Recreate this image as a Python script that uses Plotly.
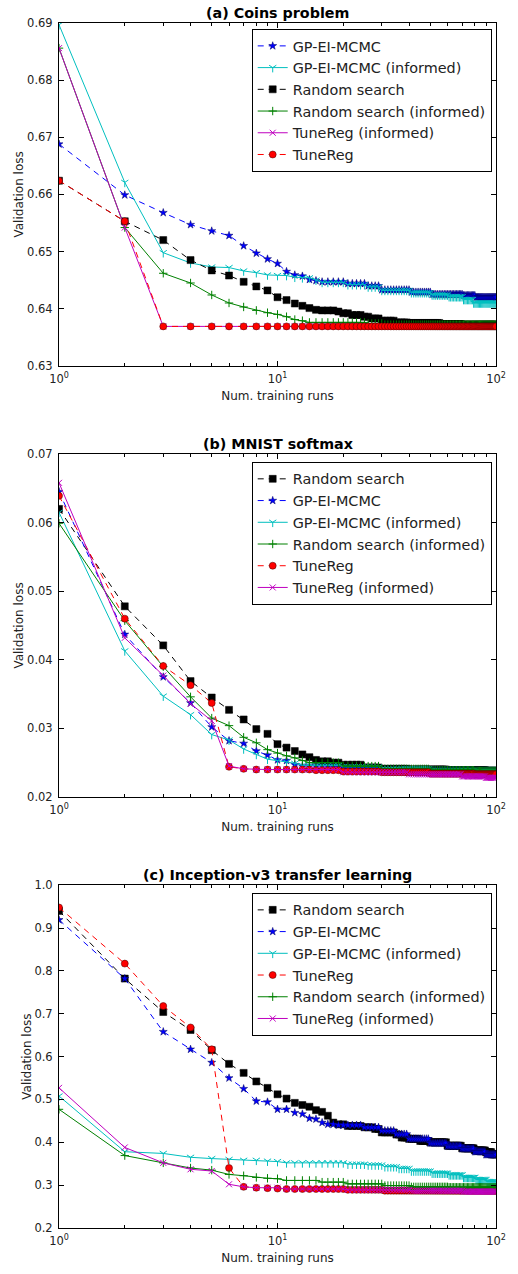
import numpy as np
import plotly.graph_objects as go

# ---------------- DATA ----------------
# x = number of training runs, 1..100 ; values stored as (values, repeat counts)
runs = list(range(1, 101))

# (a) Coins problem
coins_gp_vals = [0.6688, 0.6599, 0.6568, 0.6547, 0.6536, 0.6528, 0.6510, 0.6497, 0.6487, 0.6479,
                 0.6465, 0.6459, 0.6457, 0.6451, 0.6449, 0.6447, 0.6444, 0.6440, 0.6433, 0.6429,
                 0.6425, 0.6423, 0.6420]
coins_gp_reps = [1] * 15 + [5, 5, 4, 11, 10, 20, 10, 20]
coins_gpi_vals = [0.6897, 0.6621, 0.6498, 0.6480, 0.6473, 0.6472, 0.6466, 0.6463, 0.6459, 0.6458,
                  0.6458, 0.6455, 0.6454, 0.6454, 0.6450, 0.6446, 0.6442, 0.6438, 0.6432, 0.6428,
                  0.6424, 0.6421, 0.6416, 0.6410]
coins_gpi_reps = [1] * 15 + [5, 5, 4, 11, 10, 10, 10, 8, 22]
coins_rs_vals = [0.6624, 0.6553, 0.6520, 0.6485, 0.6467, 0.6458, 0.6447, 0.6439, 0.6432, 0.6420,
                 0.6415, 0.6409, 0.6405, 0.6401, 0.6398, 0.6397, 0.6395, 0.6392, 0.6389, 0.6386,
                 0.6383, 0.6379, 0.6376, 0.6375, 0.6373, 0.6372]
coins_rs_reps = [1] * 15 + [3, 1, 2, 3, 2, 3, 5, 5, 16, 14, 31]
coins_rsi_vals = [0.6856, 0.6542, 0.6462, 0.6445, 0.6424, 0.6410, 0.6403, 0.6397, 0.6393, 0.6390,
                  0.6386, 0.6381, 0.6379, 0.6376, 0.6374, 0.6372]
coins_rsi_reps = [1] * 13 + [12, 5, 70]
coins_tri_vals = [0.6856, 0.6542, 0.6369]
coins_tri_reps = [1, 1, 98]
coins_tr_vals = [0.6624, 0.6553, 0.6369]
coins_tr_reps = [1, 1, 98]

# (b) MNIST softmax
mnist_rs_vals = [0.0620, 0.0478, 0.0421, 0.0369, 0.0345, 0.0327, 0.0313, 0.0299, 0.0292, 0.0277,
                 0.0272, 0.0267, 0.0262, 0.0258, 0.0254, 0.0252, 0.0250, 0.0247, 0.0243, 0.0241,
                 0.0240, 0.0239, 0.0238]
mnist_rs_reps = [1] * 15 + [2, 2, 5, 5, 10, 20, 30, 11]
mnist_gp_vals = [0.0645, 0.0437, 0.0375, 0.0337, 0.0302, 0.0282, 0.0278, 0.0267, 0.0261, 0.0254,
                 0.0253, 0.0247, 0.0245, 0.0242, 0.0240, 0.0239, 0.0238]
mnist_gp_reps = [1] * 12 + [7, 10, 20, 30, 21]
mnist_gpi_vals = [0.0615, 0.0413, 0.0347, 0.0320, 0.0291, 0.0283, 0.0270, 0.0262, 0.0255, 0.0253,
                  0.0251, 0.0249, 0.0246, 0.0244, 0.0241, 0.0238, 0.0237]
mnist_gpi_reps = [1] * 12 + [7, 10, 20, 30, 21]
mnist_rsi_vals = [0.0599, 0.0457, 0.0390, 0.0346, 0.0315, 0.0304, 0.0287, 0.0279, 0.0269, 0.0264,
                  0.0260, 0.0257, 0.0253, 0.0250, 0.0245, 0.0241, 0.0239, 0.0238]
mnist_rsi_reps = [1] * 13 + [6, 10, 20, 30, 21]
mnist_tr_vals = [0.0639, 0.0460, 0.0391, 0.0363, 0.0337, 0.0244, 0.0241, 0.0240, 0.0239, 0.0237,
                 0.0236, 0.0234, 0.0233]
mnist_tr_reps = [1] * 7 + [7, 5, 10, 20, 30, 21]
mnist_tri_vals = [0.0658, 0.0432, 0.0377, 0.0336, 0.0311, 0.0245, 0.0241, 0.0240, 0.0236, 0.0233,
                  0.0230, 0.0228]
mnist_tri_reps = [1] * 7 + [12, 20, 30, 20, 11]

# (c) Inception-v3 transfer learning
inc_rs_vals = [0.940, 0.782, 0.704, 0.662, 0.615, 0.583, 0.562, 0.542, 0.527, 0.512, 0.502, 0.492,
               0.487, 0.483, 0.475, 0.471, 0.462, 0.446, 0.442, 0.438, 0.435, 0.431, 0.423, 0.418,
               0.411, 0.408, 0.403, 0.400, 0.392, 0.386, 0.381, 0.377, 0.372]
inc_rs_reps = [1] * 18 + [2, 4, 3, 2, 5, 2, 3, 5, 5, 10, 10, 10, 10, 6, 5]
inc_gp_vals = [0.919, 0.782, 0.658, 0.617, 0.586, 0.550, 0.525, 0.496, 0.494, 0.477, 0.477, 0.469,
               0.466, 0.456, 0.454, 0.446, 0.442, 0.440, 0.435, 0.427, 0.419, 0.408, 0.398, 0.391,
               0.385, 0.378, 0.371]
inc_gp_reps = [1] * 16 + [2, 6, 5, 5, 5, 10, 10, 10, 10, 10, 11]
inc_gpi_vals = [0.508, 0.378, 0.374, 0.365, 0.362, 0.360, 0.358, 0.358, 0.356, 0.355, 0.352, 0.349,
                0.347, 0.343, 0.339, 0.333, 0.328, 0.324, 0.318, 0.313, 0.308]
inc_gpi_reps = [1] * 10 + [10, 5, 5, 5, 5, 10, 10, 10, 10, 10, 10]
inc_tr_vals = [0.948, 0.817, 0.718, 0.668, 0.617, 0.340, 0.296, 0.294, 0.293, 0.292, 0.291, 0.289,
               0.287]
inc_tr_reps = [1] * 10 + [10, 10, 70]
inc_rsi_vals = [0.477, 0.369, 0.352, 0.340, 0.335, 0.325, 0.322, 0.318, 0.316, 0.315, 0.311, 0.307,
                0.303, 0.299, 0.296, 0.295]
inc_rsi_reps = [1] * 10 + [5, 5, 10, 10, 20, 40]
inc_tri_vals = [0.527, 0.388, 0.352, 0.337, 0.333, 0.302, 0.296, 0.294, 0.294, 0.294, 0.291, 0.289,
                0.287, 0.285]
inc_tri_reps = [1] * 10 + [10, 20, 30, 30]

panel_titles = ["(a) Coins problem", "(b) MNIST softmax", "(c) Inception-v3 transfer learning"]
x_tick_vals = [1, 10, 100]
x_tick_text = ["10<sup>0</sup>", "10<sup>1</sup>", "10<sup>2</sup>"]

# ---------------- STYLE ----------------
STY = {
    "GP-EI-MCMC": dict(color="#0000ff", dash="dash", symbol="star", size=6, edge="#000060", lw=0.5),
    "GP-EI-MCMC (informed)": dict(color="#00bfbf", dash="solid", symbol="y-down-open", size=6, edge="#00bfbf", lw=1),
    "Random search": dict(color="#000000", dash="dash", symbol="square", size=7, edge="#000000", lw=0.5),
    "Random search (informed)": dict(color="#008000", dash="solid", symbol="cross-thin-open", size=6, edge="#008000", lw=1),
    "TuneReg (informed)": dict(color="#bf00bf", dash="solid", symbol="x-thin-open", size=6, edge="#ee44ee", lw=1),
    "TuneReg": dict(color="#ff0000", dash="dash", symbol="circle", size=7, edge="#400000", lw=0.5),
}

panels = [
    [("GP-EI-MCMC", coins_gp_vals, coins_gp_reps),
     ("GP-EI-MCMC (informed)", coins_gpi_vals, coins_gpi_reps),
     ("Random search", coins_rs_vals, coins_rs_reps),
     ("Random search (informed)", coins_rsi_vals, coins_rsi_reps),
     ("TuneReg (informed)", coins_tri_vals, coins_tri_reps),
     ("TuneReg", coins_tr_vals, coins_tr_reps)],
    [("Random search", mnist_rs_vals, mnist_rs_reps),
     ("GP-EI-MCMC", mnist_gp_vals, mnist_gp_reps),
     ("GP-EI-MCMC (informed)", mnist_gpi_vals, mnist_gpi_reps),
     ("Random search (informed)", mnist_rsi_vals, mnist_rsi_reps),
     ("TuneReg", mnist_tr_vals, mnist_tr_reps),
     ("TuneReg (informed)", mnist_tri_vals, mnist_tri_reps)],
    [("Random search", inc_rs_vals, inc_rs_reps),
     ("GP-EI-MCMC", inc_gp_vals, inc_gp_reps),
     ("GP-EI-MCMC (informed)", inc_gpi_vals, inc_gpi_reps),
     ("TuneReg", inc_tr_vals, inc_tr_reps),
     ("Random search (informed)", inc_rsi_vals, inc_rsi_reps),
     ("TuneReg (informed)", inc_tri_vals, inc_tri_reps)],
]

y_ranges = [[0.63, 0.69], [0.02, 0.07], [0.2, 1.0]]
y_dticks = [0.01, 0.01, 0.1]
y_formats = [".2f", ".2f", ".1f"]
domains = [[0.7155, 1.0], [0.3577, 0.6423], [0.0, 0.2845]]
legend_tops = [0.995, 0.6357, 0.278]

FONT = "DejaVu Sans"
fig = go.Figure()
minor_vals = [v * m for m in (1, 10) for v in range(2, 10)]

for i, series in enumerate(panels):
    ax = "" if i == 0 else str(i + 1)
    leg = "legend" if i == 0 else f"legend{i + 1}"
    for name, vals, reps in series:
        s = STY[name]
        y = np.repeat(vals, reps)
        fig.add_trace(go.Scatter(
            x=runs, y=y, name=name, mode="lines+markers",
            line=dict(color=s["color"], width=1, dash="6px,5px" if s["dash"] == "dash" else "solid"),
            marker=dict(symbol=s["symbol"], size=s["size"], color=s["color"],
                        line=dict(color=s["edge"], width=s["lw"])),
            xaxis="x" + ax, yaxis="y" + ax, legend=leg,
        ))
    fig.layout["xaxis" + ax] = dict(
        type="log", range=[0, 2], domain=[0, 1], anchor="y" + ax,
        tickmode="array", tickvals=x_tick_vals, ticktext=x_tick_text,
        ticks="inside", ticklen=5, tickcolor="black", mirror="allticks",
        showline=True, linecolor="black", linewidth=1, showgrid=False, zeroline=False,
        minor=dict(tickmode="array", tickvals=minor_vals, ticks="inside", ticklen=3,
                   tickcolor="black", showgrid=False),
        tickfont=dict(family=FONT, size=11.5, color="#222"), ticklabelstandoff=2,
        title=dict(text="Num. training runs", font=dict(family=FONT, size=12, color="#222"), standoff=6),
    )
    fig.layout["yaxis" + ax] = dict(
        range=y_ranges[i], domain=domains[i], anchor="x" + ax,
        dtick=y_dticks[i], tick0=0, tickformat=y_formats[i],
        ticks="inside", ticklen=5, tickcolor="black", mirror="allticks",
        showline=True, linecolor="black", linewidth=1, showgrid=False, zeroline=False,
        tickfont=dict(family=FONT, size=11.5, color="#222"), ticklabelstandoff=3,
        title=dict(text="Validation loss", font=dict(family=FONT, size=12, color="#222"), standoff=0),
    )
    fig.layout[leg] = dict(
        x=0.441, y=legend_tops[i], xanchor="left", yanchor="top",
        bgcolor="white", bordercolor="black", borderwidth=1,
        font=dict(family=FONT, size=14.4, color="#222"), itemwidth=30,
    )
    fig.add_annotation(
        text="<b>" + panel_titles[i] + "</b>", xref="paper", yref="paper",
        x=0.5, y=domains[i][1], yanchor="bottom", xanchor="center", showarrow=False,
        font=dict(family=FONT, size=14.3, color="black"), yshift=0,
    )

fig.update_layout(
    width=518, height=1274, margin=dict(l=59, r=12, t=23, b=35),
    paper_bgcolor="white", plot_bgcolor="white", showlegend=True,
    font=dict(family=FONT),
)
# remove the browser's default 8px page margin so the figure fills the window exactly
fig.write_html("out.html", config={"displayModeBar": False},
               post_script="document.body.style.margin='0px';")
